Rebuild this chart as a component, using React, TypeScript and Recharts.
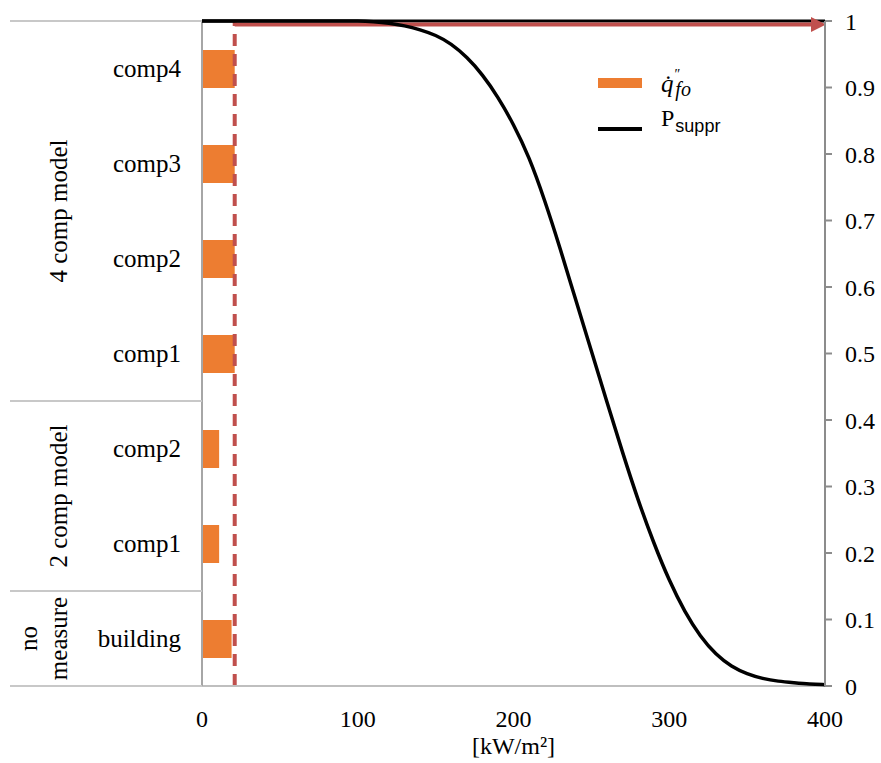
import { BarChart, Bar, LineChart, Line, XAxis, YAxis, ReferenceLine, Legend } from "recharts";

// rows from top to bottom
const categories = ["comp4", "comp3", "comp2", "comp1", "comp2", "comp1", "building"];
const categoryGroups = [
  "4 comp model", "4 comp model", "4 comp model", "4 comp model",
  "2 comp model", "2 comp model",
  "no measure",
];
const qfoValues = [21, 21, 21, 21, 11, 11, 19]; // kW/m2
const criticalFlux = 21;

// suppression probability curve
const fluxPoints = [
  0, 10, 20, 30, 40, 50, 60, 70, 80, 90, 100, 110, 120, 130, 140, 150, 160, 170, 180, 190, 200,
  210, 220, 230, 240, 250, 260, 270, 280, 290, 300, 310, 320, 330, 340, 350, 360, 370, 380, 390, 400,
];
const pSuppr = [
  1, 1, 1, 1, 1, 1, 1, 1, 1, 1, 1, 0.999, 0.997, 0.993, 0.987, 0.979, 0.966, 0.946, 0.92, 0.886, 0.845,
  0.796, 0.731, 0.658, 0.58, 0.504, 0.427, 0.351, 0.279, 0.215, 0.158, 0.111, 0.074, 0.047, 0.029, 0.018,
  0.011, 0.007, 0.005, 0.003, 0.002,
];

const xTicks = [0, 100, 200, 300, 400];
const pTicks = [0, 0.1, 0.2, 0.3, 0.4, 0.5, 0.6, 0.7, 0.8, 0.9, 1];

const W = 881;
const H = 763;
const PLOT_LEFT = 202;
const PLOT_RIGHT = 825;
const PLOT_TOP = 21;
const PLOT_BOTTOM = 686;
const BAND = (PLOT_BOTTOM - PLOT_TOP) / categories.length;

const ORANGE = "#ED7D31";
const RED = "#C0504D";
const FONT = "Liberation Serif, Times New Roman, serif";

const barData = categories.map((label, i) => ({ id: i, label, qfo: qfoValues[i] }));
const curveData = fluxPoints.map((x, i) => ({ x, p: pSuppr[i] }));

const tickStyle = { fill: "#000", fontSize: 24, fontFamily: FONT };

const CategoryTick = (props: any) => {
  const { y, index } = props;
  const group = categoryGroups[index];
  const first = index === 0 || categoryGroups[index - 1] !== group;
  const last = index === categories.length - 1 || categoryGroups[index + 1] !== group;
  const size = categoryGroups.filter((g) => g === group).length;
  const center = y + ((size - 1) / 2) * BAND;
  const lines = size === 1 ? group.split(" ") : [group];
  return (
    <g>
      <text
        x={PLOT_LEFT - 21}
        y={y}
        textAnchor="end"
        dominantBaseline="central"
        fontSize={25}
        fontFamily={FONT}
        fill="#000"
      >
        {categories[index]}
      </text>
      {first && (
        <line x1={10} x2={PLOT_LEFT} y1={y - BAND / 2} y2={y - BAND / 2} stroke="#c8c8c8" strokeWidth={2} />
      )}
      {last && (
        <line x1={10} x2={PLOT_LEFT} y1={y + BAND / 2} y2={y + BAND / 2} stroke="#c8c8c8" strokeWidth={2} />
      )}
      {first &&
        lines.map((t, k) => {
          const cx = 58 - (lines.length - 1 - k) * 30;
          return (
            <text
              key={k}
              x={cx}
              y={center}
              transform={`rotate(-90, ${cx}, ${center})`}
              textAnchor="middle"
              dominantBaseline="central"
              fontSize={25}
              fontFamily={FONT}
              fill="#000"
            >
              {t}
            </text>
          );
        })}
    </g>
  );
};

const Arrow = (props: any) => {
  const { x1, y1, x2 } = props;
  const yy = y1 + 3.5;
  return (
    <g>
      <line x1={x1} y1={yy} x2={x2 - 12} y2={yy} stroke={RED} strokeWidth={4} />
      <polygon points={`${x2 - 14},${yy - 7.5} ${x2 + 1},${yy} ${x2 - 14},${yy + 7.5}`} fill={RED} />
    </g>
  );
};

const LegendContent = () => (
  <svg width={150} height={80} style={{ overflow: "visible" }}>
    <rect x={0} y={8} width={44} height={10} fill={ORANGE} />
    <text x={63} y={22} fontSize={25} fontStyle="italic" fill="#000" fontFamily={FONT}>
      {"q\u0307"}
      <tspan dx={1} dy={-13} fontSize={14} fontStyle="normal">{"\u2033"}</tspan>
      <tspan dx={-5} dy={17} fontSize={20}>fo</tspan>
    </text>
    <line x1={0} x2={44} y1={59} y2={59} stroke="#000" strokeWidth={4} />
    <text x={63} y={56} fontSize={24} fill="#000" fontFamily={FONT}>
      P
      <tspan dx={1} dy={6} fontSize={18} fontFamily="Liberation Sans, Arial, sans-serif">suppr</tspan>
    </text>
  </svg>
);

export default function App() {
  return (
    <div style={{ position: "absolute", left: 0, top: 0, width: W, height: H, fontFamily: FONT, background: "#fff" }}>
      <div style={{ position: "absolute", left: 0, top: 0 }}>
        <BarChart
          width={W}
          height={H}
          layout="vertical"
          data={barData}
          margin={{ top: PLOT_TOP, right: W - PLOT_RIGHT, bottom: 0, left: 0 }}
        >
          <XAxis
            type="number"
            domain={[0, 400]}
            ticks={xTicks}
            height={H - PLOT_BOTTOM}
            tickLine={false}
            tickMargin={18}
            axisLine={{ stroke: "#bfbfbf", strokeWidth: 2 }}
            tick={tickStyle}
            label={{ value: "[kW/m²]", position: "insideBottom", offset: 9, ...tickStyle }}
          />
          <YAxis
            type="category"
            dataKey="id"
            width={PLOT_LEFT}
            tickLine={false}
            axisLine={{ stroke: "#a6a6a6", strokeWidth: 2 }}
            tick={<CategoryTick />}
            interval={0}
          />
          <Bar dataKey="qfo" fill={ORANGE} barSize={38} isAnimationActive={false} />
          <ReferenceLine x={criticalFlux} stroke={RED} strokeWidth={4} strokeDasharray="12 8" />
        </BarChart>
      </div>
      <div style={{ position: "absolute", left: 0, top: 0 }}>
        <LineChart
          width={W}
          height={H}
          data={curveData}
          margin={{ top: PLOT_TOP, right: 0, bottom: H - PLOT_BOTTOM, left: PLOT_LEFT }}
        >
          <XAxis type="number" dataKey="x" domain={[0, 400]} hide />
          <YAxis
            orientation="right"
            domain={[0, 1]}
            ticks={pTicks}
            width={W - PLOT_RIGHT}
            tickSize={7}
            tickMargin={13}
            tickLine={{ stroke: "#8c8c8c", strokeWidth: 2 }}
            axisLine={{ stroke: "#8c8c8c", strokeWidth: 2 }}
            tick={tickStyle}
          />
          <ReferenceLine y={1} stroke="#000" strokeWidth={3} />
          <ReferenceLine
            segment={[{ x: criticalFlux, y: 1 }, { x: 400, y: 1 }]}
            shape={(p: any) => <Arrow {...p} />}
          />
          <Line type="basis" dataKey="p" stroke="#000" strokeWidth={3.5} dot={false} isAnimationActive={false} />
          <Legend
            layout="horizontal"
            verticalAlign="middle"
            align="center"
            content={() => <LegendContent />}
            wrapperStyle={{ left: 598, top: 70, width: 150, height: 80 }}
          />
        </LineChart>
      </div>
    </div>
  );
}
